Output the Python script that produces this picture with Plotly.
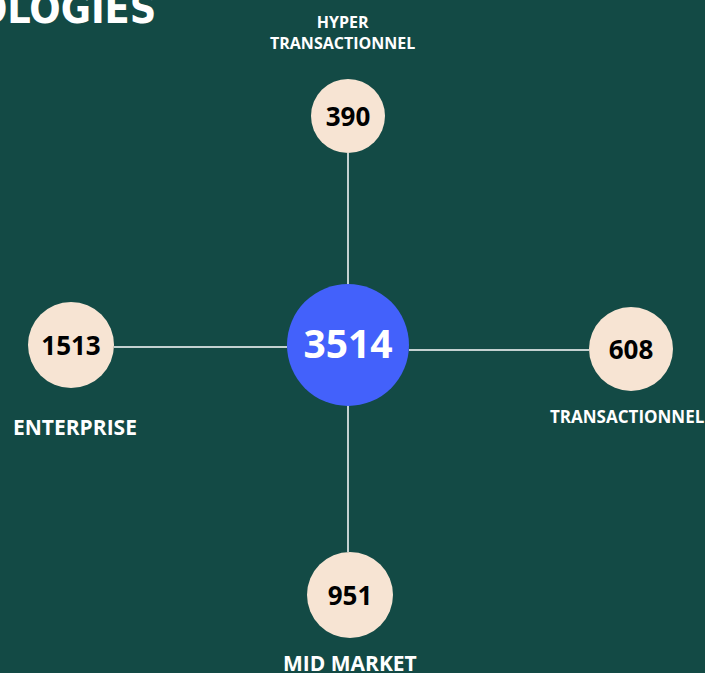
import plotly.graph_objects as go

# ---- data ----
categories = ["HYPER<br>TRANSACTIONNEL", "TRANSACTIONNEL", "MID MARKET", "ENTERPRISE"]
values = [390, 608, 951, 1513]
total_label = "TOTAL"
total_value = 3514
title_text = "TYPOLOGIES"

# ---- layout (pixel coordinates; y axis reversed) ----
W, H = 705, 673
center = (348, 345)
node_pos = [(348, 116), (631, 349), (350, 595), (71, 345)]
node_size = [74, 84, 86, 86]
line_end = [(348, 153), (589, 350), (348, 552), (114, 347)]
line_start = [(348, 284), (409, 350), (348, 405), (287, 347)]
label_pos = [(342, 32), (627, 416), (350, 663), (75, 427)]
label_size = [16, 17, 21, 21]
TEXT_DY = 3  # optical offset of the numbers inside the circles

BG = "#134a45"
BLUE = "#4361fb"
PEACH = "#f7e4d3"
FONT = "Open Sans, sans-serif"

fig = go.Figure()

# connecting lines
for (x0, y0), (x1, y1) in zip(line_start, line_end):
    fig.add_trace(go.Scatter(x=[x0, x1], y=[y0, y1], mode="lines",
                             line=dict(color="white", width=1.5),
                             hoverinfo="skip", showlegend=False))

# outer nodes
fig.add_trace(go.Scatter(
    x=[p[0] for p in node_pos], y=[p[1] for p in node_pos],
    mode="markers",
    marker=dict(size=node_size, color=PEACH, opacity=1, line=dict(width=0)),
    text=[str(v) for v in values], customdata=categories,
    hovertemplate="%{customdata}: %{text}<extra></extra>", showlegend=False))
fig.add_trace(go.Scatter(
    x=[p[0] for p in node_pos], y=[p[1] + TEXT_DY for p in node_pos],
    mode="text", text=[str(v) for v in values], textposition="middle center",
    textfont=dict(family=FONT, size=26, color="black", weight="bold"),
    hoverinfo="skip", showlegend=False))

# center node
fig.add_trace(go.Scatter(
    x=[center[0]], y=[center[1]], mode="markers",
    marker=dict(size=122, color=BLUE, opacity=1, line=dict(width=0)),
    text=[str(total_value)],
    hovertemplate=total_label + ": %{text}<extra></extra>", showlegend=False))
fig.add_trace(go.Scatter(
    x=[center[0]], y=[center[1] + TEXT_DY], mode="text",
    text=[str(total_value)], textposition="middle center",
    textfont=dict(family=FONT, size=39, color="white", weight="bold"),
    hoverinfo="skip", showlegend=False))

# category labels
for lab, (x, y), s in zip(categories, label_pos, label_size):
    fig.add_annotation(x=x, y=y, xref="x", yref="y", text=f"<b>{lab}</b>",
                       showarrow=False, xanchor="center", yanchor="middle",
                       font=dict(family=FONT, size=s, color="white"))

# cut-off title
fig.add_annotation(x=158, y=9, xref="x", yref="y", text=f"<b>{title_text}</b>",
                   showarrow=False, xanchor="right", yanchor="middle",
                   font=dict(family="Liberation Sans Narrow, DejaVu Sans Condensed, sans-serif",
                             size=41, color="white"))

fig.update_layout(
    width=W, height=H, margin=dict(l=0, r=0, t=0, b=0),
    paper_bgcolor=BG, plot_bgcolor=BG,
    xaxis=dict(range=[0, W], visible=False, fixedrange=True),
    yaxis=dict(range=[H, 0], visible=False, fixedrange=True),
)

fig.write_html("out.html", config={"displayModeBar": False},
               post_script="document.body.style.margin='0';document.body.style.overflow='hidden';"
                           "document.body.style.background='" + BG + "';")
